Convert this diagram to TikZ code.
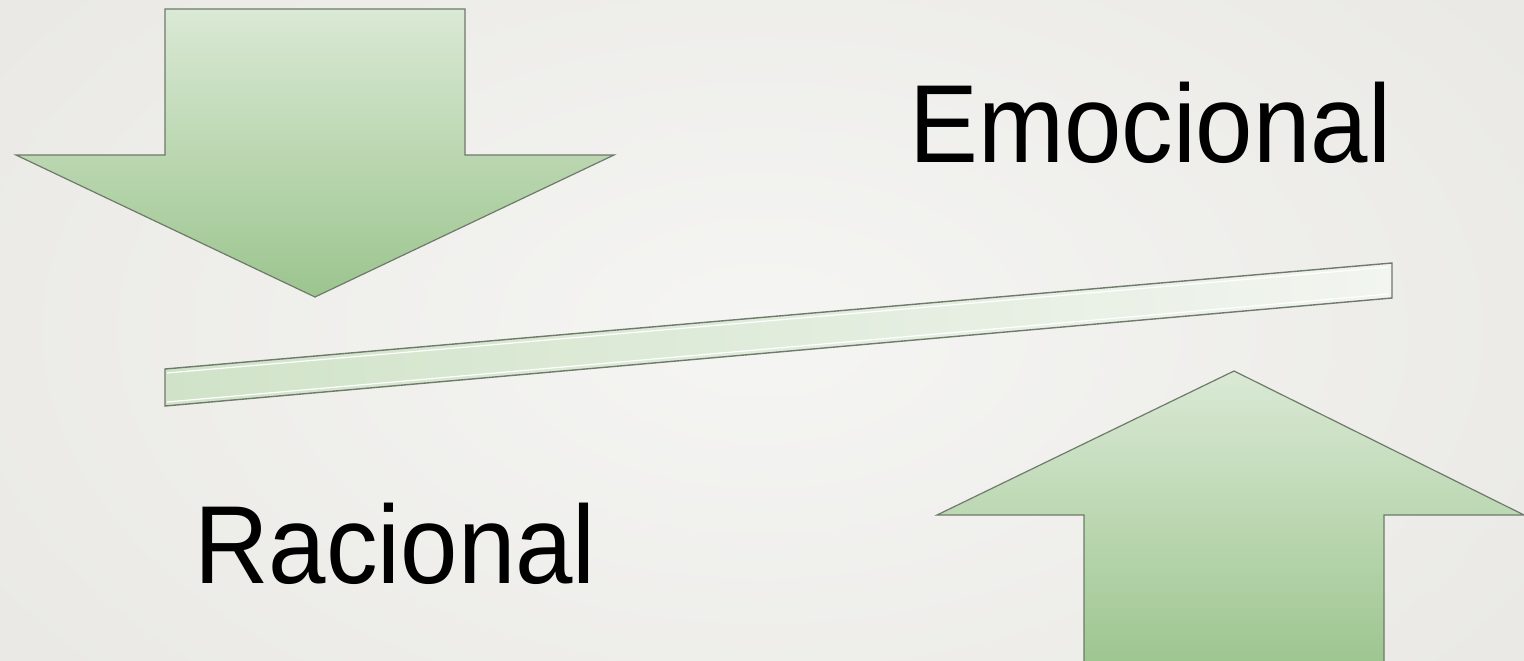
\documentclass[tikz,border=0pt]{standalone}
\usepackage{fontspec}
\newfontfamily\labfont[FakeStretch=0.93]{Liberation Sans}
\definecolor{bgin}{HTML}{F5F5F3}
\definecolor{bgout}{HTML}{E8E7E3}
\definecolor{gtop}{HTML}{DAE9D5}
\definecolor{gbot}{HTML}{9CC58E}
\definecolor{edge}{HTML}{6E7A6A}
\definecolor{bartop}{HTML}{F2F5F0}
\definecolor{barbot}{HTML}{D0E3C8}
\begin{document}
\begin{tikzpicture}[x=1pt,y=-1pt,
  arrowshape/.style={draw=edge,line width=1.2pt,line join=miter,top color=gtop,bottom color=gbot},
  barshape/.style={draw=edge,line width=1.4pt,left color=barbot,right color=bartop},
  highlight/.style={white,line width=1.2pt},
  lab/.style={inner sep=0pt,font=\labfont\fontsize{111}{120}\selectfont,text=black}]
\useasboundingbox (0,0) rectangle (1524,661);
\shade[inner color=bgin,outer color=bgout] (-300,-300) rectangle (1824,961);
% down arrow
\path[arrowshape] (165,9) -- (465,9) -- (465,155) -- (614,155) -- (315,297) -- (16,155) -- (165,155) -- cycle;
% bar
\path[barshape] (165,369) -- (1392,263) -- (1392,298) -- (165,406) -- cycle;
\draw[highlight] (167,373) -- (1389,267);
\draw[highlight] (167,402) -- (1389,294);
% up arrow
\path[arrowshape] (1234,371) -- (1524,515) -- (1384,515) -- (1384,670) -- (1084,670) -- (1084,515) -- (937,515) -- cycle;
% labels
\node[lab,anchor=base west] (emo) at (909,162) {Emocional};
\node[lab,anchor=base west] (rac) at (194,583) {Racional};
\end{tikzpicture}
\end{document}
